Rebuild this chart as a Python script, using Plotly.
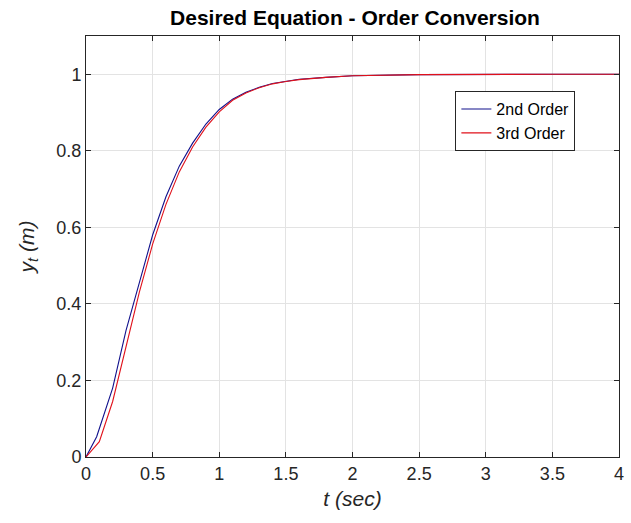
import plotly.graph_objects as go

# Step responses of the desired closed-loop equation
t_2nd = [0, 0.08, 0.2, 0.3, 0.4, 0.5, 0.6, 0.7, 0.8, 0.9, 1.0, 1.1, 1.2, 1.3, 1.4,
         1.5, 1.6, 1.8, 2.0, 2.5, 3.0, 3.5, 4.0]
y_2nd = [0, 0.053, 0.18, 0.33, 0.455, 0.58, 0.68, 0.76, 0.82, 0.87, 0.908, 0.935,
         0.953, 0.966, 0.976, 0.982, 0.987, 0.992, 0.996, 0.999, 1.0, 1.0, 1.0]

t_3rd = [0, 0.1, 0.2, 0.3, 0.4, 0.5, 0.6, 0.7, 0.8, 0.9, 1.0, 1.1, 1.2, 1.3, 1.4,
         1.5, 1.6, 1.8, 2.0, 2.5, 3.0, 3.5, 4.0]
y_3rd = [0, 0.04, 0.145, 0.29, 0.43, 0.556, 0.66, 0.745, 0.81, 0.862, 0.902, 0.932,
         0.951, 0.965, 0.975, 0.981, 0.986, 0.992, 0.996, 0.999, 1.0, 1.0, 1.0]

x_ticks = [0, 0.5, 1, 1.5, 2, 2.5, 3, 3.5, 4]
y_ticks = [0, 0.2, 0.4, 0.6, 0.8, 1]

FONT = "Liberation Sans, Arial, Helvetica, sans-serif"
AX = "#262626"

fig = go.Figure()
fig.add_trace(go.Scatter(x=t_2nd, y=y_2nd, mode="lines", name="2nd Order",
                         line=dict(color="#10108c", width=1.1)))
fig.add_trace(go.Scatter(x=t_3rd, y=y_3rd, mode="lines", name="3rd Order",
                         line=dict(color="#e0101a", width=1.1)))

axis_common = dict(
    showgrid=True, gridcolor="#e3e3e3", gridwidth=1,
    showline=True, linecolor=AX, linewidth=1, mirror="ticks",
    ticks="inside", ticklen=5, tickcolor=AX, zeroline=False,
    tickfont=dict(family=FONT, size=18, color=AX),
)

fig.update_layout(
    width=631, height=523,
    paper_bgcolor="white", plot_bgcolor="white",
    margin=dict(l=86, r=7, t=36, b=66),
    title=dict(text="<b>Desired Equation - Order Conversion</b>",
               x=0.5626, xanchor="center",
               y=0.9656, yanchor="middle",
               font=dict(family=FONT, size=21, color="black")),
    xaxis=dict(range=[0, 4], tickvals=x_ticks, ticktext=[str(v) for v in x_ticks],
               title=dict(text="<i>t (sec)</i>", standoff=8,
                          font=dict(family=FONT, size=21, color=AX)),
               **axis_common),
    yaxis=dict(range=[0, 1.1], tickvals=y_ticks, ticktext=[str(v) for v in y_ticks],
               title=dict(text="<i>y<sub>t</sub> (m)</i>", standoff=16,
                          font=dict(family=FONT, size=21, color=AX)),
               **axis_common),
    legend=dict(x=0.693, y=0.869, xanchor="left", yanchor="top",
                bgcolor="white", bordercolor=AX, borderwidth=1,
                font=dict(family=FONT, size=16, color="black"),
                tracegroupgap=0, itemwidth=30),
    showlegend=True,
)

fig.write_html("out.html")
